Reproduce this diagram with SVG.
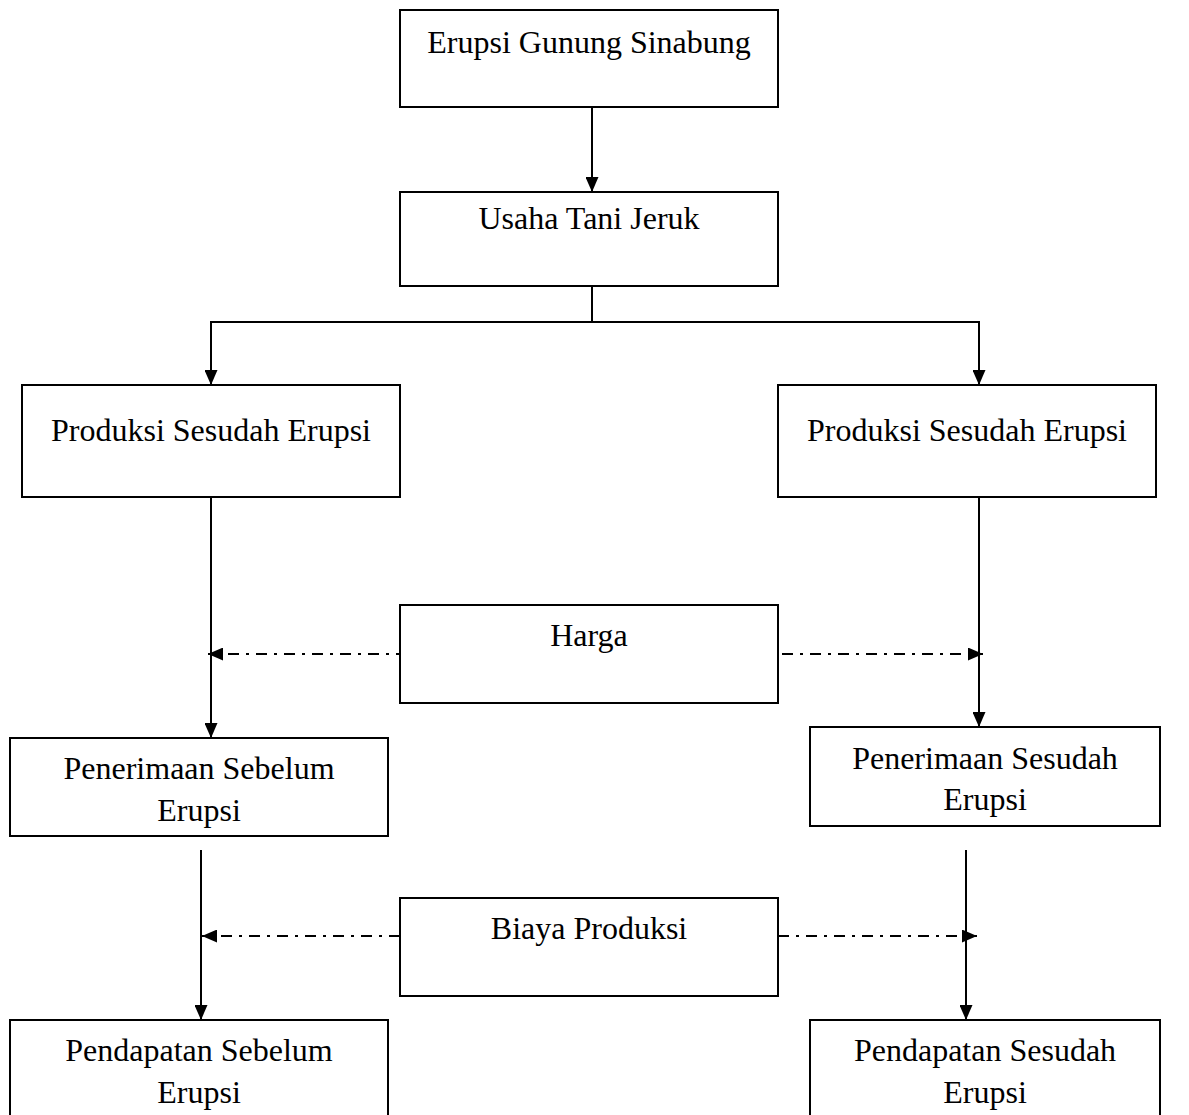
<svg xmlns="http://www.w3.org/2000/svg" width="1189" height="1115" viewBox="0 0 1189 1115">
<style>
.box{fill:#fff;stroke:#000;stroke-width:2}
.t{font-family:"Liberation Serif","Times New Roman",serif;font-size:32px;fill:#000;text-anchor:middle}
.ln{fill:none;stroke:#000;stroke-width:2}
.dd{fill:none;stroke:#000;stroke-width:2;stroke-dasharray:11 7 3 7}
</style>
<defs>
<marker id="ah" viewBox="0 0 10 10" refX="10" refY="5" markerWidth="15" markerHeight="13" markerUnits="userSpaceOnUse" orient="auto" preserveAspectRatio="none">
<path d="M0,0 L10,5 L0,10 z" fill="#000"/>
</marker>
</defs>
<rect width="1189" height="1115" fill="#fff"/>
<g id="connectors">
<line class="ln" x1="592" y1="107" x2="592" y2="192" marker-end="url(#ah)"/>
<polyline class="ln" points="592,286 592,322"/>
<polyline class="ln" points="211,322 979,322"/>
<line class="ln" x1="211" y1="321" x2="211" y2="385" marker-end="url(#ah)"/>
<line class="ln" x1="979" y1="321" x2="979" y2="385" marker-end="url(#ah)"/>
<line class="ln" x1="211" y1="497" x2="211" y2="738" marker-end="url(#ah)"/>
<line class="ln" x1="979" y1="497" x2="979" y2="727" marker-end="url(#ah)"/>
<line class="dd" x1="407" y1="654" x2="208" y2="654" marker-end="url(#ah)"/>
<line class="dd" x1="782" y1="654" x2="983" y2="654" marker-end="url(#ah)"/>
<line class="ln" x1="201" y1="850" x2="201" y2="1020" marker-end="url(#ah)"/>
<line class="ln" x1="966" y1="850" x2="966" y2="1020" marker-end="url(#ah)"/>
<line class="dd" x1="400" y1="936" x2="202" y2="936" marker-end="url(#ah)"/>
<line class="dd" x1="778" y1="936" x2="977" y2="936" marker-end="url(#ah)"/>
</g>
<g id="erupsi"><rect class="box" x="400" y="10" width="378" height="97"/><text class="t" x="589" y="53">Erupsi Gunung Sinabung</text></g>
<g id="usaha"><rect class="box" x="400" y="192" width="378" height="94"/><text class="t" x="589" y="229">Usaha Tani Jeruk</text></g>
<g id="prod-left"><rect class="box" x="22" y="385" width="378" height="112"/><text class="t" x="211" y="441">Produksi Sesudah Erupsi</text></g>
<g id="prod-right"><rect class="box" x="778" y="385" width="378" height="112"/><text class="t" x="967" y="441">Produksi Sesudah Erupsi</text></g>
<g id="harga"><rect class="box" x="400" y="605" width="378" height="98"/><text class="t" x="589" y="646">Harga</text></g>
<g id="pen-left"><rect class="box" x="10" y="738" width="378" height="98"/><text class="t" x="199" y="779">Penerimaan Sebelum</text><text class="t" x="199" y="821">Erupsi</text></g>
<g id="pen-right"><rect class="box" x="810" y="727" width="350" height="99"/><text class="t" x="985" y="769">Penerimaan Sesudah</text><text class="t" x="985" y="810">Erupsi</text></g>
<g id="biaya"><rect class="box" x="400" y="898" width="378" height="98"/><text class="t" x="589" y="939">Biaya Produksi</text></g>
<g id="pend-left"><rect class="box" x="10" y="1020" width="378" height="110"/><text class="t" x="199" y="1061">Pendapatan Sebelum</text><text class="t" x="199" y="1103">Erupsi</text></g>
<g id="pend-right"><rect class="box" x="810" y="1020" width="350" height="110"/><text class="t" x="985" y="1061">Pendapatan Sesudah</text><text class="t" x="985" y="1103">Erupsi</text></g>
</svg>
